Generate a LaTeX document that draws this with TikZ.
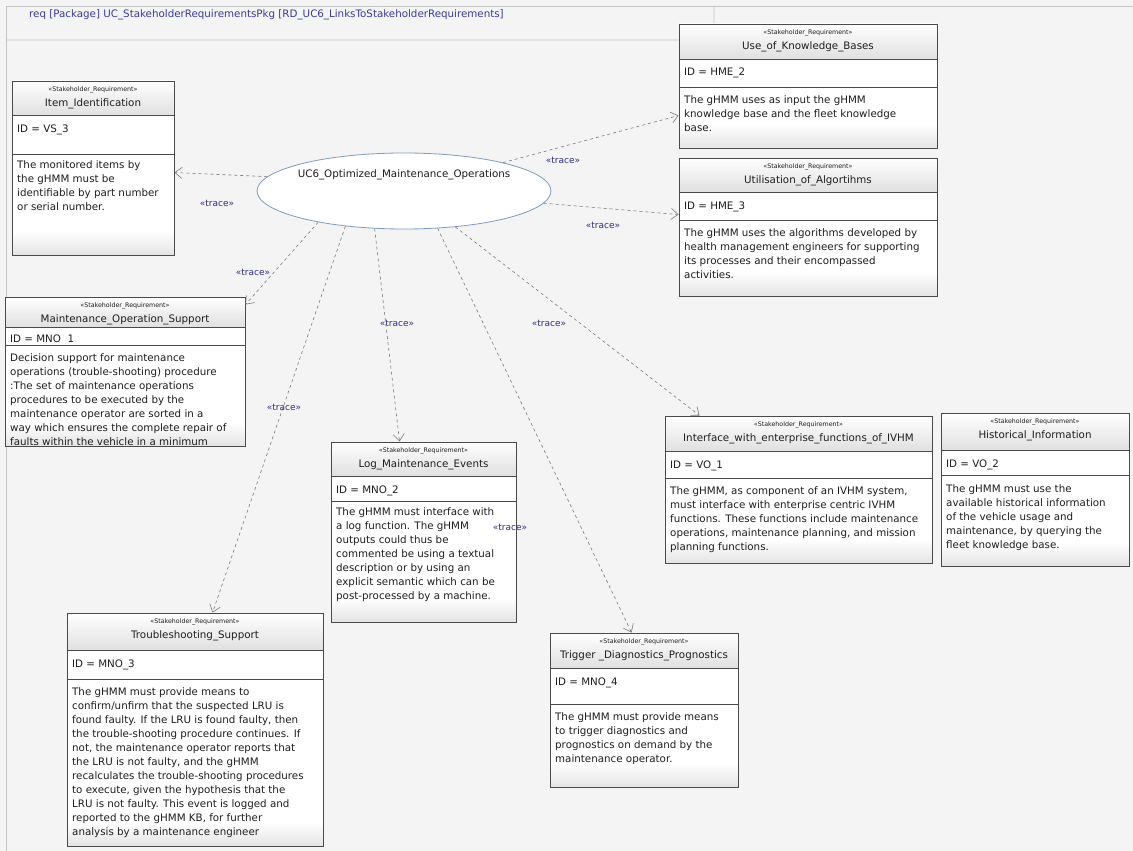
\documentclass[tikz,border=0pt]{standalone}
\usepackage{fontspec}
\setmainfont{DejaVu Sans}
\usetikzlibrary{arrows.meta,shapes.geometric,fit}
\definecolor{bg}{HTML}{F4F4F4}
\definecolor{boxline}{HTML}{4A4A4A}
\definecolor{hdrbot}{HTML}{E0E0E0}
\definecolor{bodybot}{HTML}{E4E4E4}
\definecolor{tracecol}{HTML}{2E2E86}
\definecolor{linecol}{HTML}{7A7A7A}
\definecolor{ellline}{HTML}{7E9CC0}
\definecolor{framecol}{HTML}{C4C4C4}
\definecolor{txt}{HTML}{1E1E1E}
\definecolor{hdrtxt}{HTML}{3A3A9C}
\newcommand\bodyfont{\fontsize{10.3}{14}\selectfont}
\newcommand\stereofont{\fontsize{6.3}{8}\selectfont}
\tikzset{
  x=1pt, y=-1pt,
  stereo/.style={font=\stereofont, text=txt, inner sep=0pt},
  titletext/.style={font=\bodyfont, text=txt, inner sep=0pt},
  idtext/.style={font=\bodyfont, text=txt, inner sep=0pt, anchor=base west},
  bodytext/.style={font=\bodyfont, text=txt, inner sep=0pt, align=left, anchor=north west},
  trace/.style={draw=linecol, line width=0.6pt, dash pattern=on 3pt off 3pt, -{Straight Barb[length=7pt,width=11pt]}},
  tracelbl/.style={font=\fontsize{9}{10}\selectfont, text=tracecol, inner sep=1pt},
}
% #1 name #2 x1 #3 y1 #4 x2 #5 y2 #6 header bottom #7 id bottom #8 title #9 id
\newcommand\reqbox[9]{%
  \shade[top color=white,bottom color=hdrbot] (#2,#3) rectangle (#4,#6);
  \fill[white] (#2,#6) rectangle (#4,#5);
  \shade[top color=white,bottom color=bodybot] (#2,#5-24) rectangle (#4,#5);
  \node[fit={(#2,#3) (#4,#5)}, inner sep=0pt, draw=boxline, line width=0.9pt] (#1) {};
  \draw[boxline, line width=0.9pt] (#2,#6) -- (#4,#6) (#2,#7) -- (#4,#7);
  \node[stereo] (#1-st) at ({(#2+#4)/2},#3+9) {«Stakeholder\_Requirement»};
  \node[titletext] (#1-ti) at ({(#2+#4)/2},#3+23) {#8};
  \node[idtext] (#1-id) at (#2+5,{min(#6+17,#7-3)}) {#9};
}
\begin{document}
\begin{tikzpicture}
\fill[bg] (0,0) rectangle (1133,851);
\useasboundingbox (0,0) rectangle (1133,851);
% frame
\draw[framecol, line width=0.8pt] (6,851) -- (6,6) -- (1133,6);
\draw[framecol, line width=0.8pt] (6,40) -- (700,40) -- (714,26) -- (714,6);
\node[font=\bodyfont, text=hdrtxt, inner sep=0pt, anchor=base west] (hdr) at (29,18)
  {req [Package] UC\_StakeholderRequirementsPkg [RD\_UC6\_LinksToStakeholderRequirements]};

% use case
\node[ellipse, draw=ellline, fill=white, line width=0.8pt, minimum width=294pt, minimum height=76pt, inner sep=0pt] (uc) at (404,191) {};
\node[titletext] (ucname) at (404,175) {UC6\_Optimized\_Maintenance\_Operations};

% requirement boxes
\reqbox{item}{12}{81}{174}{255}{115}{154}{Item\_Identification}{ID = VS\_3}
\node[bodytext] (item-b) at (17,160) {The monitored items by\\the gHMM must be\\identifiable by part number\\or serial number.};

\reqbox{use}{679}{24}{937}{148}{59}{87}{Use\_of\_Knowledge\_Bases}{ID = HME\_2}
\node[bodytext] (use-b) at (684,95) {The gHMM uses as input the gHMM\\knowledge base and the fleet knowledge\\base.};

\reqbox{util}{679}{158}{937}{296}{192}{220}{Utilisation\_of\_Algortihms}{ID = HME\_3}
\node[bodytext] (util-b) at (684,228) {The gHMM uses the algorithms developed by\\health management engineers for supporting\\its processes and their encompassed\\activities.};

\reqbox{mos}{5}{297}{245}{446}{327}{345}{Maintenance\_Operation\_Support}{ID = MNO\ \ 1}
\begin{scope}
\clip (5,345) rectangle (245,445);
\node[bodytext] (mos-b) at (10,353) {Decision support for maintenance\\operations (trouble-shooting) procedure\\:The set of maintenance operations\\procedures to be executed by the\\maintenance operator are sorted in a\\way which ensures the complete repair of\\faults within the vehicle in a minimum\\period of time.};
\end{scope}

\reqbox{log}{331}{442}{516}{622}{476}{501}{Log\_Maintenance\_Events}{ID = MNO\_2}
\node[bodytext] (log-b) at (336,507) {The gHMM must interface with\\a log function. The gHMM\\outputs could thus be\\commented be using a textual\\description or by using an\\explicit semantic which can be\\post-processed by a machine.};

\reqbox{trouble}{67}{613}{323}{846}{650}{679}{Troubleshooting\_Support}{ID = MNO\_3}
\begin{scope}
\clip (67,679) rectangle (323,845);
\node[bodytext] (trouble-b) at (72,687) {The gHMM must provide means to\\confirm/unfirm that the suspected LRU is\\found faulty. If the LRU is found faulty, then\\the trouble-shooting procedure continues. If\\not, the maintenance operator reports that\\the LRU is not faulty, and the gHMM\\recalculates the trouble-shooting procedures\\to execute, given the hypothesis that the\\LRU is not faulty. This event is logged and\\reported to the gHMM KB, for further\\analysis by a maintenance engineer};
\end{scope}

\reqbox{trigger}{550}{633}{738}{787}{668}{704}{Trigger \_Diagnostics\_Prognostics}{ID = MNO\_4}
\node[bodytext] (trigger-b) at (555,712) {The gHMM must provide means\\to trigger diagnostics and\\prognostics on demand by the\\maintenance operator.};

\reqbox{iface}{665}{416}{932}{563}{451}{478}{Interface\_with\_enterprise\_functions\_of\_IVHM}{ID = VO\_1}
\node[bodytext] (iface-b) at (670,486) {The gHMM, as component of an IVHM system,\\must interface with enterprise centric IVHM\\functions. These functions include maintenance\\operations, maintenance planning, and mission\\planning functions.};

\reqbox{hist}{941}{413}{1129}{566}{450}{475}{Historical\_Information}{ID = VO\_2}
\node[bodytext] (hist-b) at (946,484) {The gHMM must use the\\available historical information\\of the vehicle usage and\\maintenance, by querying the\\fleet knowledge base.};

% trace connectors
\draw[trace] (uc.174) -- ([yshift=-92pt]item.north east);
\draw[trace] (uc.16) -- ([yshift=-92pt]use.north west);
\draw[trace] (uc.355) -- ([yshift=-57pt]util.north west);
\draw[trace] (uc.200) -- ([yshift=-8pt]mos.north east);
\draw[trace] (uc.211) -- ([xshift=146pt]trouble.north west);
\draw[trace] (uc.232) -- ([xshift=69pt]log.north west);
\draw[trace] (uc.312) -- ([xshift=82pt]trigger.north west);
\draw[trace] (uc.325) -- ([xshift=35pt]iface.north west);

\node[tracelbl] (l1) at (217,203) {«trace»};
\node[tracelbl] (l2) at (563,160) {«trace»};
\node[tracelbl] (l3) at (603,225) {«trace»};
\node[tracelbl] (l4) at (253,272) {«trace»};
\node[tracelbl] (l5) at (284,407) {«trace»};
\node[tracelbl] (l6) at (397,323) {«trace»};
\node[tracelbl] (l7) at (510,527) {«trace»};
\node[tracelbl] (l8) at (549,323) {«trace»};
\end{tikzpicture}
\end{document}
